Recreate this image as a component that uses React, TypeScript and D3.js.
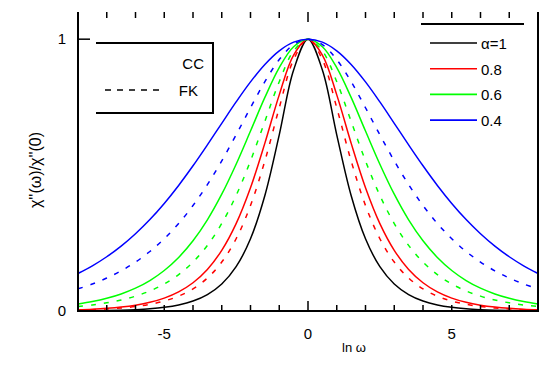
import React from 'react';
import * as d3 from 'd3';

// x values: ln(omega*tau), -8 .. 8 in steps of 0.5
const lnOmega = [
  -8, -7.5, -7, -6.5, -6, -5.5, -5, -4.5, -4, -3.5, -3, -2.5, -2, -1.5, -1, -0.5, 0,
  0.5, 1, 1.5, 2, 2.5, 3, 3.5, 4, 4.5, 5, 5.5, 6, 6.5, 7, 7.5, 8,
];

// normalised loss peaks
const debye = [
  0.0007, 0.0011, 0.0018, 0.003, 0.005, 0.0082, 0.0135, 0.0222, 0.0366, 0.0603, 0.0993, 0.1631, 0.2658, 0.4251, 0.6481, 0.8868, 1,
  0.8868, 0.6481, 0.4251, 0.2658, 0.1631, 0.0993, 0.0603, 0.0366, 0.0222, 0.0135, 0.0082, 0.005, 0.003, 0.0018, 0.0011, 0.0007,
];
const cc08 = [
  0.0043, 0.0065, 0.0097, 0.0144, 0.0214, 0.0319, 0.0474, 0.0703, 0.1039, 0.1529, 0.2232, 0.3215, 0.4535, 0.6175, 0.7951, 0.9417, 1,
  0.9417, 0.7951, 0.6175, 0.4535, 0.3215, 0.2232, 0.1529, 0.1039, 0.0703, 0.0474, 0.0319, 0.0214, 0.0144, 0.0097, 0.0065, 0.0043,
];
const fk08 = [
  0.0033, 0.005, 0.0074, 0.011, 0.0165, 0.0246, 0.0366, 0.0546, 0.0814, 0.1212, 0.18, 0.2658, 0.388, 0.5523, 0.7477, 0.925, 1,
  0.925, 0.7477, 0.5523, 0.388, 0.2658, 0.18, 0.1212, 0.0814, 0.0546, 0.0366, 0.0246, 0.0165, 0.011, 0.0074, 0.005, 0.0033,
];
const cc06 = [
  0.0259, 0.0348, 0.0468, 0.0628, 0.084, 0.1121, 0.149, 0.197, 0.2584, 0.3355, 0.4297, 0.54, 0.662, 0.7857, 0.8954, 0.9723, 1,
  0.9723, 0.8954, 0.7857, 0.662, 0.54, 0.4297, 0.3355, 0.2584, 0.197, 0.149, 0.1121, 0.084, 0.0628, 0.0468, 0.0348, 0.0259,
];
const fk06 = [
  0.0165, 0.0222, 0.03, 0.0405, 0.0546, 0.0737, 0.0993, 0.1338, 0.18, 0.2413, 0.3218, 0.4251, 0.5523, 0.6978, 0.8436, 0.9566, 1,
  0.9566, 0.8436, 0.6978, 0.5523, 0.4251, 0.3218, 0.2413, 0.18, 0.1338, 0.0993, 0.0737, 0.0546, 0.0405, 0.03, 0.0222, 0.0165,
];
const cc04 = [
  0.1381, 0.1663, 0.1996, 0.2387, 0.2842, 0.3364, 0.3957, 0.4619, 0.5342, 0.6112, 0.6905, 0.7691, 0.8428, 0.907, 0.9571, 0.989, 1,
  0.989, 0.9571, 0.907, 0.8428, 0.7691, 0.6905, 0.6112, 0.5342, 0.4619, 0.3957, 0.3364, 0.2842, 0.2387, 0.1996, 0.1663, 0.1381,
];
const fk04 = [
  0.0814, 0.0993, 0.1212, 0.1477, 0.18, 0.2189, 0.2658, 0.3218, 0.388, 0.4649, 0.5523, 0.6481, 0.7477, 0.8436, 0.925, 0.9803, 1,
  0.9803, 0.925, 0.8436, 0.7477, 0.6481, 0.5523, 0.4649, 0.388, 0.3218, 0.2658, 0.2189, 0.18, 0.1477, 0.1212, 0.0993, 0.0814,
];

const alphaLabels = ['\u03b1=1', '0.8', '0.6', '0.4'];
const colors = ['#000000', '#ff0000', '#00ff00', '#0000ff'];
const xTickLabels = [-5, 0, 5];
const yTickLabels = [0, 1];

const DASH = '5,8';

const series = [
  { vals: debye, color: colors[0], dash: null },
  { vals: fk08, color: colors[1], dash: DASH },
  { vals: cc08, color: colors[1], dash: null },
  { vals: fk06, color: colors[2], dash: DASH },
  { vals: cc06, color: colors[2], dash: null },
  { vals: fk04, color: colors[3], dash: DASH },
  { vals: cc04, color: colors[3], dash: null },
];

const W = 552;
const H = 367;
const left = 78, right = 538, top = 12, bottom = 311;
const font = '"Liberation Sans", Arial, sans-serif';

export default function App() {
  const x = d3.scaleLinear().domain([-8, 8]).range([left, right]);
  const y = d3.scaleLinear().domain([0, 1.1]).range([bottom, top]);

  const line = d3
    .line<number>()
    .x((_, i) => x(lnOmega[i]))
    .y((d) => y(d))
    .curve(d3.curveCatmullRom);

  const minor = d3.range(-8, 9, 1);

  return (
    <div style={{ position: 'fixed', left: 0, top: 0 }}>
      <svg width={W} height={H} style={{ display: 'block', background: '#fff' }} fontFamily={font}>
        <defs>
          <clipPath id="plot">
            <rect x={left} y={top} width={right - left} height={bottom - top} />
          </clipPath>
        </defs>
        {/* curves */}
        <g clipPath="url(#plot)">
          {series.map((s, i) => (
            <path
              key={i}
              d={line(s.vals) || ''}
              fill="none"
              stroke={s.color}
              strokeWidth={1.5}
              strokeDasharray={s.dash || undefined}
            />
          ))}
        </g>

        {/* frame: left, right, bottom */}
        <g stroke="#000" strokeWidth={2}>
          <line x1={left} x2={left} y1={top} y2={bottom + 1} />
          <line x1={right} x2={right} y1={top} y2={bottom + 1} />
          <line x1={left} x2={right} y1={bottom} y2={bottom} />
        </g>

        {/* x ticks, bottom and top */}
        <g stroke="#000" strokeWidth={1.5}>
          {minor.map((t) => {
            const len = t === 0 ? 10 : 6;
            return (
              <g key={t}>
                <line x1={x(t)} x2={x(t)} y1={bottom} y2={bottom - len} />
                <line x1={x(t)} x2={x(t)} y1={top} y2={top + len} />
              </g>
            );
          })}
          {yTickLabels.map((t) => (
            <line key={t} x1={left} x2={left + 12} y1={y(t)} y2={y(t)} />
          ))}
        </g>

        {/* tick labels */}
        <g fontSize={15} fill="#000">
          {xTickLabels.map((t) => (
            <text key={t} x={x(t)} y={bottom + 28} textAnchor="middle">
              {t === -5 ? '-5' : t}
            </text>
          ))}
          {yTickLabels.map((t) => (
            <text key={t} x={left - 12} y={y(t) + 5} textAnchor="end">
              {t}
            </text>
          ))}
        </g>

        {/* axis titles */}
        <text x={354} y={352} fontSize={13} textAnchor="middle">
          ln ω
        </text>
        <text
          transform={`translate(41, 170) rotate(-90)`}
          fontSize={16}
          textAnchor="middle"
        >
          χ''(ω)/χ''(0)
        </text>

        {/* CC / FK legend */}
        <polyline points="96,43 213,43 213,113 96,113" stroke="#000" strokeWidth={2} fill="none" />
        <text x={204} y={69} fontSize={15} textAnchor="end">CC</text>
        <line x1={105} x2={165} y1={90} y2={90} stroke="#000" strokeWidth={1.5} strokeDasharray="6,6" />
        <text x={198} y={96} fontSize={15} textAnchor="end">FK</text>

        {/* alpha legend */}
        <line x1={421} x2={524} y1={24} y2={24} stroke="#000" strokeWidth={2} />
        {alphaLabels.map((lab, i) => {
          const yy = 43 + i * 25.7;
          return (
            <g key={lab}>
              <line x1={430} x2={477} y1={yy} y2={yy} stroke={colors[i]} strokeWidth={1.6} />
              <text x={481} y={yy + 6} fontSize={15}>
                {lab}
              </text>
            </g>
          );
        })}
      </svg>
    </div>
  );
}
